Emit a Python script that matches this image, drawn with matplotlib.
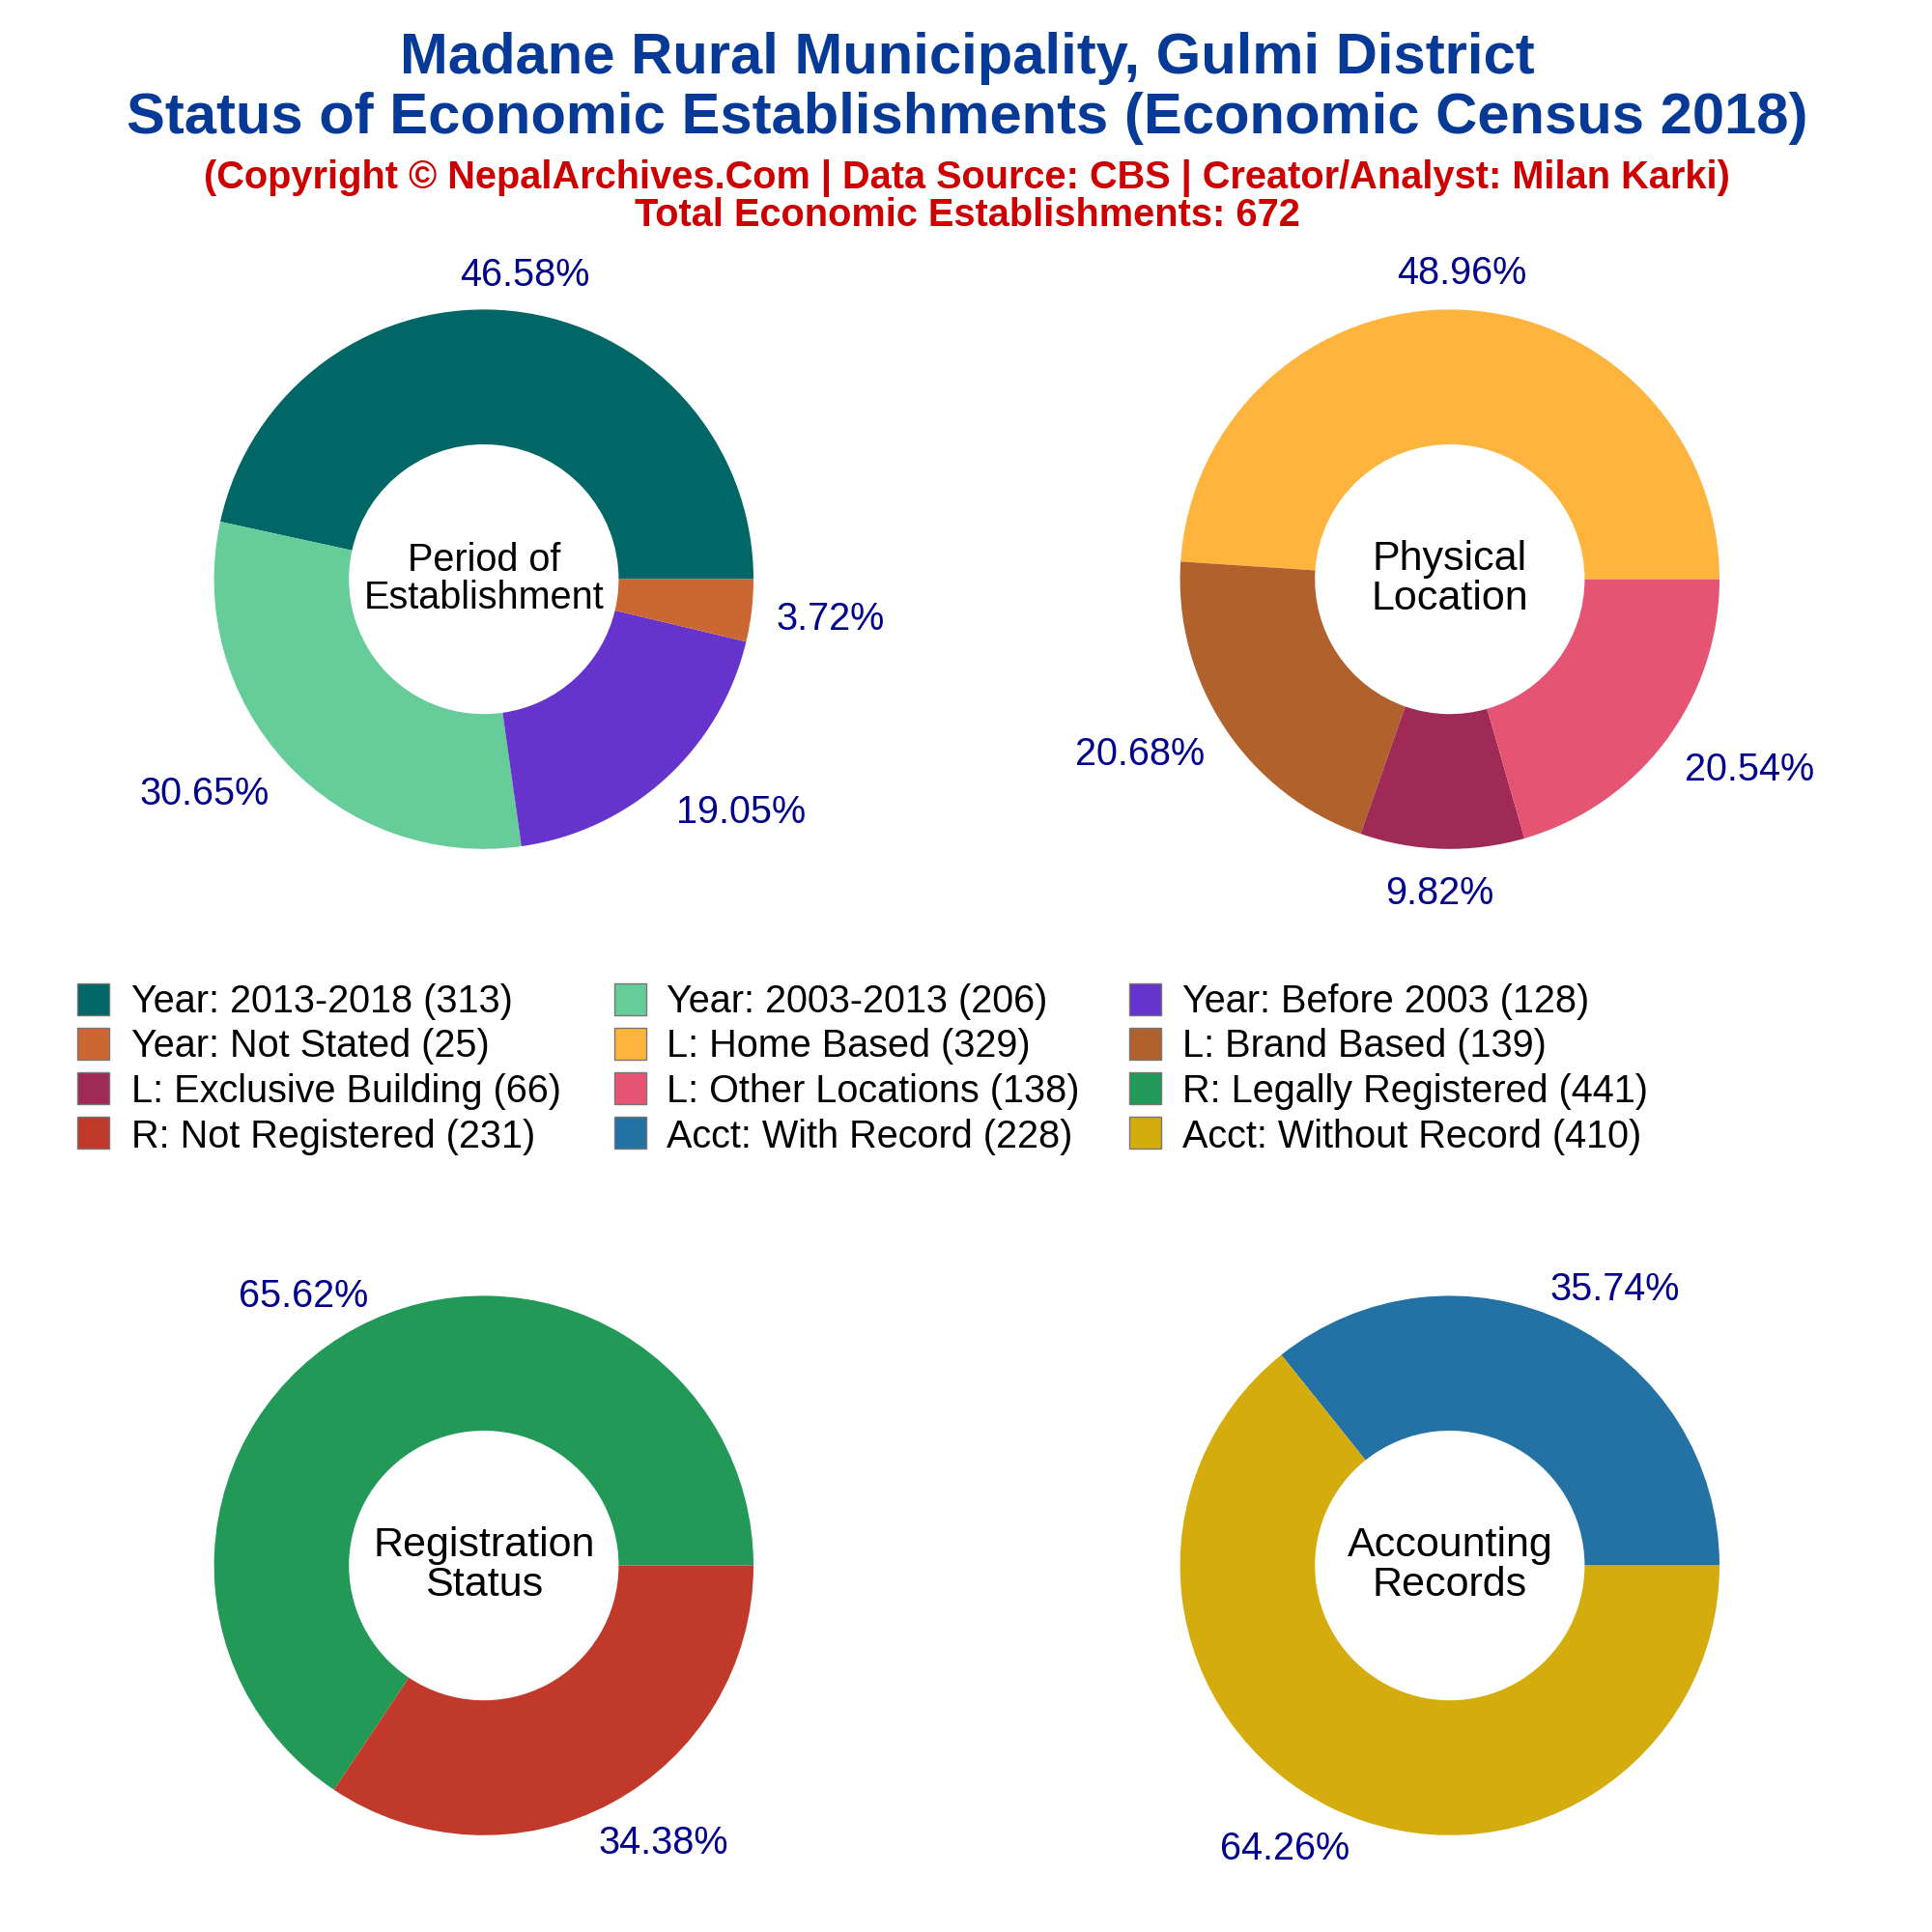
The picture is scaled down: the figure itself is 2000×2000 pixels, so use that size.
import math
import matplotlib
matplotlib.use("Agg")
import matplotlib.pyplot as plt

plt.rcParams['font.family'] = ['Liberation Sans', 'DejaVu Sans']

period_labels = ["Year: 2013-2018", "Year: 2003-2013", "Year: Before 2003", "Year: Not Stated"]
period_vals = [313, 206, 128, 25]
period_cols = ["#006666", "#66CC99", "#6633CC", "#CC6633"]

location_labels = ["L: Home Based", "L: Brand Based", "L: Exclusive Building", "L: Other Locations"]
location_vals = [329, 139, 66, 138]
location_cols = ["#FFB43E", "#B0612C", "#9E2A55", "#E55472"]

reg_labels = ["R: Legally Registered", "R: Not Registered"]
reg_vals = [441, 231]
reg_cols = ["#229957", "#C0392B"]

acct_labels = ["Acct: With Record", "Acct: Without Record"]
acct_vals = [228, 410]
acct_cols = ["#2471A3", "#D4AC0D"]

DARKBLUE = "#00008B"

fig = plt.figure(figsize=(20, 20), dpi=100)


def donut(rect, vals, cols, center, center_size):
    ax = fig.add_axes(rect)
    wedges, texts, pcts = ax.pie(vals, colors=cols, startangle=0, radius=1.0,
                                 wedgeprops=dict(width=0.5), autopct="%.2f%%",
                                 textprops=dict(color=DARKBLUE, fontsize=28.5))
    ax.set_xlim(-1, 1)
    ax.set_ylim(-1, 1)
    ax.set_aspect("equal")
    ax.text(0, 0, center, ha="center", va="center", fontsize=center_size,
            linespacing=1.05, color="black")
    # labels sit further out at the sides than above and below the ring
    renderer = fig.canvas.get_renderer()
    unit = ax.get_window_extent(renderer).width / 2
    for w, p in zip(wedges, pcts):
        a = math.radians((w.theta1 + w.theta2) / 2)
        half = p.get_window_extent(renderer).width / 2 / unit
        push = min(1, abs(math.cos(a)) * 1.35) * half
        p.set_position((1.09 * math.cos(a) + math.copysign(push, math.cos(a)),
                        1.15 * math.sin(a) - 0.015))
        p.set_clip_on(False)
    return ax


donut([0.1108, 0.5606, 0.2792, 0.2792], period_vals, period_cols, "Period of\nEstablishment", 28.5)
donut([0.6108, 0.5606, 0.2792, 0.2792], location_vals, location_cols, "Physical\nLocation", 31)
donut([0.1108, 0.0501, 0.2792, 0.2792], reg_vals, reg_cols, "Registration\nStatus", 31)
donut([0.6108, 0.0501, 0.2792, 0.2792], acct_vals, acct_cols, "Accounting\nRecords", 31)

fig.text(0.5005, 0.9700, "Madane Rural Municipality, Gulmi District", ha="center", va="center",
         fontsize=43, fontweight="bold", color="#063A96")
fig.text(0.5005, 0.9390, "Status of Economic Establishments (Economic Census 2018)", ha="center", va="center",
         fontsize=43, fontweight="bold", color="#063A96")
fig.text(0.5005, 0.9080, "(Copyright © NepalArchives.Com | Data Source: CBS | Creator/Analyst: Milan Karki)",
         ha="center", va="center", fontsize=28.6, fontweight="bold", color="#CC0000")
fig.text(0.5005, 0.8885, "Total Economic Establishments: 672", ha="center", va="center",
         fontsize=28.6, fontweight="bold", color="#CC0000")

all_labels = period_labels + location_labels + reg_labels + acct_labels
all_vals = period_vals + location_vals + reg_vals + acct_vals
all_cols = period_cols + location_cols + reg_cols + acct_cols

box_x = [0.040, 0.318, 0.5845]
text_x = [0.068, 0.345, 0.612]
box_y = [0.4828, 0.4598, 0.4368, 0.4138]
row_y = [0.4815, 0.4585, 0.4350, 0.4115]
for i, (lab, val, col) in enumerate(zip(all_labels, all_vals, all_cols)):
    r, c = divmod(i, 3)
    fig.add_artist(plt.Rectangle((box_x[c], box_y[r] - 0.00825), 0.0165, 0.0165, facecolor=col,
                                 edgecolor="#777777", linewidth=1, transform=fig.transFigure))
    fig.text(text_x[c], row_y[r], "%s (%d)" % (lab, val), ha="left", va="center",
             fontsize=28.5, color="black")

fig.savefig("out.png", dpi=100)
